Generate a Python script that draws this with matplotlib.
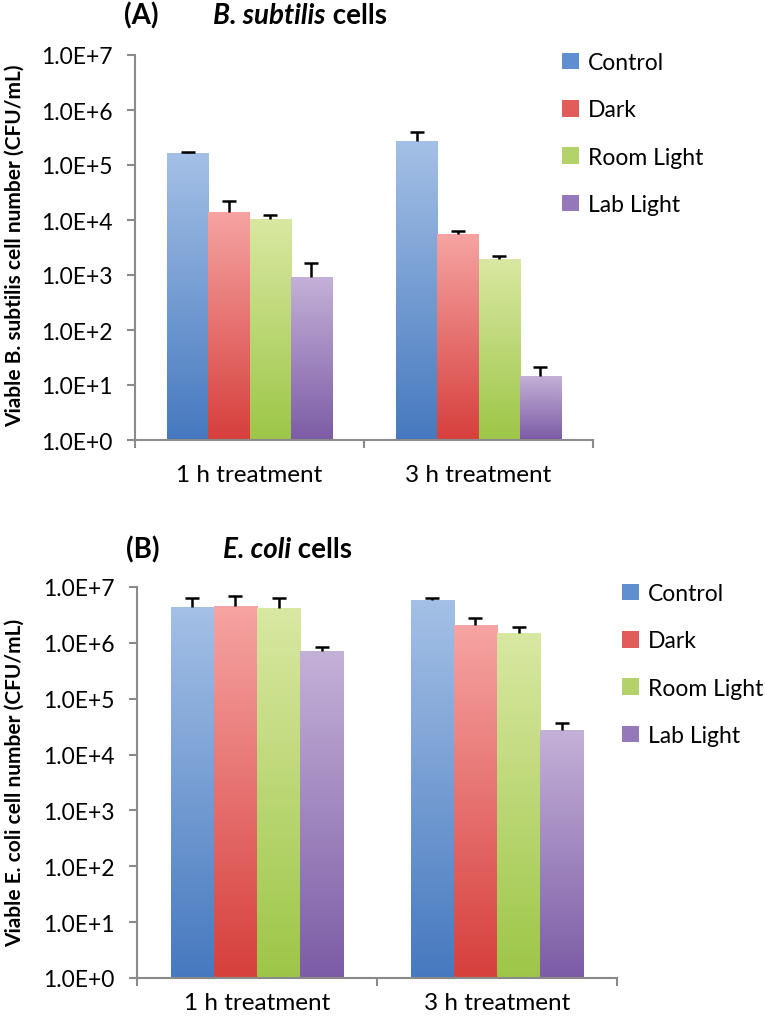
import numpy as np
import matplotlib
matplotlib.use('Agg')
import matplotlib.pyplot as plt
from matplotlib.ticker import FuncFormatter, NullLocator, FixedLocator

plt.rcParams['font.family'] = ['Lato', 'DejaVu Sans']

groups = ['1 h treatment', '3 h treatment']
treatments = ['Control', 'Dark', 'Room Light', 'Lab Light']

# B. subtilis, CFU/mL, one row per treatment, columns = 1 h, 3 h
bs_mean = [[1.65e5, 2.7e5],
           [1.4e4, 5.6e3],
           [1.05e4, 1.95e3],
           [9.2e2, 14.6]]
bs_err = [[7e3, 1.3e5],
          [8e3, 7e2],
          [2e3, 2.2e2],
          [7.3e2, 6.5]]

# E. coli, CFU/mL
ec_mean = [[4.4e6, 5.85e6],
           [4.6e6, 2.08e6],
           [4.15e6, 1.5e6],
           [7.2e5, 2.75e4]]
ec_err = [[1.9e6, 4e5],
          [2.4e6, 7e5],
          [2.2e6, 4.2e5],
          [1.1e5, 8.8e3]]

# gradient colours, top -> bottom
top_cols = ['#a4c0e6', '#f6a4a3', '#d9e8a2', '#c4b1d8']
bot_cols = ['#4679bf', '#d63f3c', '#9dc647', '#7c5ca6']
mid_cols = ['#5f8fd0', '#e25d5a', '#b3d36a', '#9478ba']

AX_COL = '#8a8a8a'
FS = 16.5

fig = plt.figure(figsize=(7.65, 10.2), dpi=100)


def px(x, y):
    return x / 765, 1 - y / 1020


def gradient_bar(ax, bar, c_top, c_bot):
    x0, y0 = bar.get_x(), bar.get_y()
    x1, y1 = x0 + bar.get_width(), y0 + bar.get_height()
    to_axes = ax.transData + ax.transAxes.inverted()
    (ax0, ay0), (ax1, ay1) = to_axes.transform([(x0, y0), (x1, y1)])
    t = np.linspace(0, 1, 256)[:, None]
    a = np.array(matplotlib.colors.to_rgb(c_top))
    b = np.array(matplotlib.colors.to_rgb(c_bot))
    img = (1 - t)[:, :, None] * a + t[:, :, None] * b
    im = ax.imshow(img, extent=[ax0, ax1, ay0, ay1], transform=ax.transAxes,
                   aspect='auto', interpolation='bilinear', zorder=2)
    im.set_clip_path(bar)


def draw_panel(ax, means, errs, xpad):
    ax.set_yscale('log')
    ax.set_xlim(0, 2)
    ax.set_ylim(1, 1e7)
    width = 0.18
    x = np.arange(len(groups)) + 0.5
    for i, name in enumerate(treatments):
        xs = x + (i - 1.5) * width
        m = np.array(means[i])
        bars = ax.bar(xs, m - 1, width, bottom=1, color=mid_cols[i],
                      label=name, zorder=1)
        for b in bars:
            gradient_bar(ax, b, top_cols[i], bot_cols[i])
        eb = ax.errorbar(xs, m, yerr=[np.zeros(len(m)), errs[i]], fmt='none',
                         ecolor='black', elinewidth=1.8, capsize=5,
                         capthick=1.8, zorder=4)
        eb[1][0].set_visible(False)  # only the upper cap

    for s in ['top', 'right']:
        ax.spines[s].set_visible(False)
    for s in ['left', 'bottom']:
        ax.spines[s].set_color(AX_COL)
        ax.spines[s].set_linewidth(1.5)

    ax.yaxis.set_major_locator(FixedLocator([10.0 ** k for k in range(8)]))
    ax.yaxis.set_minor_locator(NullLocator())
    ax.yaxis.set_major_formatter(FuncFormatter(
        lambda v, p: '1.0E+%d' % int(round(np.log10(v)))))
    ax.tick_params(axis='y', length=6, width=1.5, color=AX_COL, pad=10,
                   labelsize=FS)

    ax.set_xticks(x)
    ax.set_xticklabels(groups)
    ax.set_xticks([0, 1, 2], minor=True)
    ax.tick_params(axis='x', which='major', length=0, pad=xpad, labelsize=17.5)
    ax.tick_params(axis='x', which='minor', length=6, width=1.5, color=AX_COL)


def legend(ax, x, y):
    fig.legend(*ax.get_legend_handles_labels(), loc='upper left',
               bbox_to_anchor=px(x, y), frameon=False, fontsize=FS,
               borderpad=0, borderaxespad=0, handlelength=0.75,
               handleheight=0.75, handletextpad=0.4, labelspacing=1.15)


# ---------------------------- (A) B. subtilis ---------------------------- #
axA = fig.add_axes([135 / 765, 1 - 441 / 1020, 458 / 765, 385 / 1020])
draw_panel(axA, bs_mean, bs_err, 17)
fig.text(*px(124, 16), '(A)', fontsize=20, fontweight='bold', va='center')
tA = fig.text(*px(213, 16), 'B. subtilis', fontsize=20, fontweight='bold',
              style='italic', va='center')
axA.annotate(' cells', xy=(1, 0), xycoords=tA, va='bottom', ha='left',
             fontsize=20, fontweight='bold')
fig.text(*px(15, 246), 'Viable B. subtilis cell number (CFU/mL)', rotation=90,
         ha='center', va='center', fontsize=15, fontweight='bold')
legend(axA, 562, 53)

# ------------------------------ (B) E. coli ------------------------------ #
axB = fig.add_axes([137 / 765, 1 - 979 / 1020, 480 / 765, 391 / 1020])
draw_panel(axB, ec_mean, ec_err, 10)
fig.text(*px(126, 550), '(B)', fontsize=20, fontweight='bold', va='center')
tB = fig.text(*px(223, 550), 'E. coli', fontsize=20, fontweight='bold',
              style='italic', va='center')
axB.annotate(' cells', xy=(1, 0), xycoords=tB, va='bottom', ha='left',
             fontsize=20, fontweight='bold')
fig.text(*px(15, 783), 'Viable E. coli cell number (CFU/mL)', rotation=90,
         ha='center', va='center', fontsize=15, fontweight='bold')
legend(axB, 622, 584)

fig.savefig('out.png', dpi=100)
